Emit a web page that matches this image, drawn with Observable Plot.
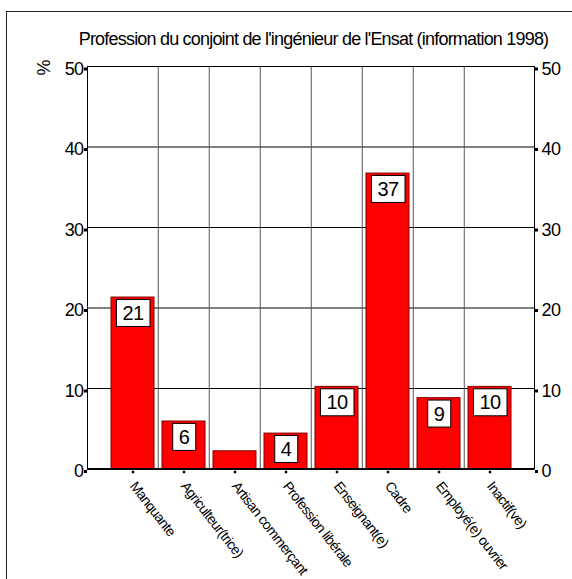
<!DOCTYPE html>
<html><head><meta charset="utf-8">
<script src="https://cdn.jsdelivr.net/npm/d3@7"></script>
<script src="https://cdn.jsdelivr.net/npm/@observablehq/plot@0.6"></script>
<style>
html,body{margin:0;padding:0;width:572px;height:579px;overflow:hidden;background:#fff;}
#frame{position:absolute;left:6px;top:11px;width:700px;height:700px;border:1.5px solid #222;box-sizing:border-box;z-index:5;pointer-events:none;}
#title{position:absolute;left:0;top:29px;width:627px;text-align:center;font-family:"Liberation Sans",Arial,sans-serif;font-size:18px;letter-spacing:-0.8px;line-height:20px;white-space:nowrap;color:#000;}
#chart{position:absolute;left:0;top:50px;}
#chart svg text{letter-spacing:-0.6px;}
</style></head><body>
<div id="title"></div>
<div id="chart"></div>
<div id="frame"></div>
<script>
const title = "Profession du conjoint de l'ingénieur de l'Ensat (information 1998)";
const categories = ["Manquante","Agriculteur(trice)","Artisan commerçant","Profession libérale","Enseignant(e)","Cadre","Employé(e) ouvrier","Inactif(ve)"];
const values = [21.3, 5.9, 2.2, 4.4, 10.2, 36.7, 8.8, 10.2];
const valueLabels = ["21","6","","4","10","37","9","10"];
const yTicks = [0,10,20,30,40,50];
const yLabel = "%";

document.getElementById("title").textContent = title;

const W = 572, H = 529, mL = 87, mR = 38, mT = 16, mB = 110.5, inset = 17.5;
const step = (W - mL - mR - 2 * inset) / categories.length;
const data = categories.map((c, i) => ({category: c, value: values[i], label: valueLabels[i]}));
const font = '"Liberation Sans", Arial, sans-serif';

const chart = Plot.plot({
  width: W, height: H,
  marginLeft: mL, marginRight: mR, marginTop: mT, marginBottom: mB,
  style: {fontFamily: font, background: "transparent", overflow: "visible", color: "#000"},
  x: {domain: categories, padding: 0, insetLeft: inset, insetRight: inset},
  y: {domain: [0, 50]},
  marks: [
    Plot.ruleY(yTicks.slice(1, -1), {stroke: "#000", strokeWidth: 1}),
    Plot.ruleX(categories.slice(1), {x: d => d, dx: -step / 2, stroke: "#555", strokeWidth: 1}),
    Plot.barY(data, {x: "category", y: "value", fill: "#ff0000", stroke: "#800000", strokeWidth: 1, insetLeft: 4, insetRight: 4}),
    Plot.frame({stroke: "#000"}),
    Plot.ruleY([0], {stroke: "#000", strokeWidth: 2}),
    Plot.axisY({ticks: yTicks, anchor: "left", tickSize: 3, strokeWidth: 3, tickPadding: 1, fontSize: 18, dy: 2.5, label: null}),
    Plot.axisY({ticks: yTicks, anchor: "right", tickSize: 3, strokeWidth: 3, tickPadding: 4, fontSize: 18, dy: 2.5, label: null}),
    Plot.dot(categories, {x: d => d, frameAnchor: "bottom", symbol: "square", r: 1.4, fill: "#000", stroke: null, dy: 3}),
    Plot.axisX({anchor: "bottom", tickSize: 0, tickPadding: 11, rotate: 52, textAnchor: "start", lineAnchor: "top", fontSize: 14, dx: 4, label: null}),
    Plot.text(data.filter(d => d.label), {x: "category", y: "value", text: "label", dy: 16, fontSize: 20, lineAnchor: "middle", fill: "#000", className: "vlabel"}),
    Plot.text([yLabel], {frameAnchor: "top-left", text: d => d, dx: -50, dy: 9, rotate: -90, fontSize: 18, fill: "#000"})
  ]
});
document.getElementById("chart").appendChild(chart);

// white boxes behind value labels
d3.select(chart).selectAll(".vlabel text").each(function() {
  const b = this.getBBox();
  const padX = 6, padY = 2.5;
  d3.select(this.parentNode).insert("rect", () => this)
    .attr("transform", this.getAttribute("transform"))
    .attr("x", b.x - padX).attr("y", b.y - padY)
    .attr("width", b.width + 2 * padX).attr("height", b.height + 2 * padY)
    .attr("fill", "#fff").attr("stroke", "#000").attr("stroke-width", 1);
});
</script>
</body></html>
